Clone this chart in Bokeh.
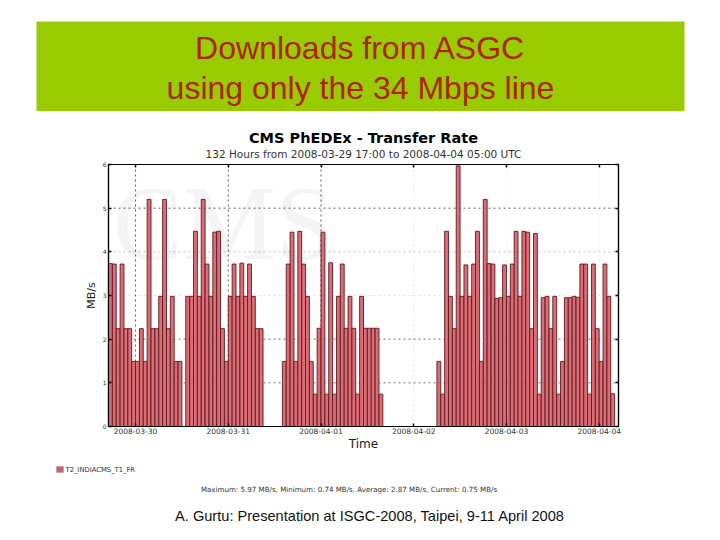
from bokeh.plotting import figure
from bokeh.layouts import column
from bokeh.models import (ColumnDataSource, Label, BoxAnnotation, FixedTicker, LinearAxis, Span)
from bokeh.embed import file_html
from bokeh.resources import INLINE

rates = [
    3.73, 3.72, 2.24, 3.72, 2.24, 2.24, 1.49, 1.49, 2.24, 1.49,
    5.20, 2.24, 2.24, 2.98, 5.20, 2.24, 2.98, 1.49, 1.49, 0.00,
    2.98, 2.98, 4.47, 2.98, 5.20, 3.72, 2.98, 4.45, 4.47, 2.24,
    1.49, 2.98, 3.72, 2.98, 3.74, 2.98, 3.72, 2.98, 2.24, 2.24,
    0.00, 0.00, 0.00, 0.00, 0.00, 1.49, 3.72, 4.45, 1.49, 4.47,
    3.72, 2.98, 1.49, 0.74, 2.25, 4.45, 0.74, 3.75, 0.74, 2.98,
    3.72, 2.25, 2.98, 2.25, 0.74, 2.98, 2.25, 2.25, 2.25, 2.25,
    0.74, 0.00, 0.00, 0.00, 0.00, 0.00, 0.00, 0.00, 0.00, 0.00,
    0.00, 0.00, 0.00, 0.00, 0.00, 1.49, 0.74, 4.47, 2.98, 2.24,
    5.97, 2.98, 3.70, 2.98, 3.72, 4.47, 1.49, 5.20, 3.73, 3.72,
    2.93, 2.95, 3.70, 2.98, 3.72, 4.47, 2.98, 4.47, 4.45, 2.24,
    4.42, 0.74, 2.95, 2.98, 2.24, 2.98, 0.74, 1.49, 2.95, 2.95,
    2.98, 2.96, 3.72, 3.72, 0.74, 3.72, 2.24, 1.49, 3.72, 2.98,
    0.75,
]
hours = [i + 0.5 for i in range(len(rates))]
day_ticks = [7, 31, 55, 79, 103, 127]
day_labels = ["2008-03-30", "2008-03-31", "2008-04-01", "2008-04-02", "2008-04-03", "2008-04-04"]
y_ticks = [0, 1, 2, 3, 4, 5, 6]

W = 712

def blank(height, left, right, top, bottom, bg):
    f = figure(width=W, height=height, output_backend="svg", toolbar_location=None,
               x_range=(0, 1), y_range=(0, 1), x_axis_location=None, y_axis_location=None,
               min_border_left=left, min_border_right=right, min_border_top=top, min_border_bottom=bottom,
               background_fill_color=bg, border_fill_color="white", frame_align=False)
    f.outline_line_color = None
    f.grid.visible = False
    return f

def text(f, x, y, s, size, font="Liberation Sans", color="black", align="center", level="annotation", style="normal"):
    f.add_layout(Label(x=x, y=y, x_units="screen", y_units="screen", text=s, level=level,
                       text_font=font, text_font_size=size, text_color=color, text_font_style=style,
                       text_align=align, text_baseline="middle"))

# header band
head = blank(111, 36, W - 684, 21, 0, "#99CC00")
text(head, 324, 64, "Downloads from ASGC", "32px", color="#AE2200")
text(head, 324, 24, "using only the 34 Mbps line", "32px", color="#AE2200")

# chart titles
heading = blank(48, 0, 0, 0, 0, "white")
text(heading, 363, 22, "CMS PhEDEx - Transfer Rate", "14.5px", font="DejaVu Sans", style="bold")
text(heading, 363, 6, "132 Hours from 2008-03-29 17:00 to 2008-04-04 05:00 UTC", "10.5px",
     font="DejaVu Sans", color="#333333")

# main chart
p = figure(width=W, height=301, output_backend="svg", toolbar_location=None,
           x_range=(0, 132), y_range=(0, 6), frame_align=False,
           min_border_left=108, min_border_right=W - 618, min_border_top=5, min_border_bottom=34,
           background_fill_color="white", border_fill_color="white")
p.outline_line_color = "black"
p.outline_line_width = 1.2
p.grid.visible = False

# faint logo watermark behind the chart
text(p, 4, 203, "CMS", "105px", font="Liberation Serif", color="#f4f4f4", align="left", level="underlay")

x_grid_alpha = [0.85, 0.85, 0.85, 0.12, 0.08, 0.08]
y_grid_alpha = [0.0, 0.75, 0.75, 0.15, 0.35, 0.85, 0.0]
for loc, a in zip(day_ticks, x_grid_alpha):
    p.add_layout(Span(location=loc, dimension="height", line_color="#111111", line_dash=[2, 3],
                      line_width=0.8, line_alpha=a, level="underlay"))
for loc, a in zip(y_ticks, y_grid_alpha):
    p.add_layout(Span(location=loc, dimension="width", line_color="#111111", line_dash=[2, 3],
                      line_width=0.8, line_alpha=a, level="underlay"))

src = ColumnDataSource(dict(x=hours, top=rates))
p.vbar(x="x", top="top", width=1.0, source=src, fill_color="#d9626c", fill_alpha=0.93,
       line_color="#5a1c20", line_width=0.9)

p.xaxis.ticker = FixedTicker(ticks=day_ticks)
p.xaxis.major_label_overrides = dict(zip(day_ticks, day_labels))
p.yaxis.ticker = FixedTicker(ticks=y_ticks)
for ax in (p.xaxis[0], p.yaxis[0]):
    ax.major_tick_in = 3
    ax.major_tick_out = 0
    ax.minor_tick_line_color = None
    ax.major_tick_line_width = 1.5
    ax.axis_line_width = 1.2
    ax.major_label_text_font = "DejaVu Sans"
    ax.major_label_text_color = "#333333"
    ax.axis_label_text_font = "DejaVu Sans"
    ax.axis_label_text_font_style = "normal"
    ax.axis_label_text_color = "#222222"
p.xaxis.major_label_text_font_size = "7.5px"
p.xaxis.major_label_standoff = 1
p.yaxis.major_label_text_font_size = "6px"
p.yaxis.major_label_standoff = 2
p.xaxis.axis_label = "Time"
p.xaxis.axis_label_text_font_size = "12px"
p.xaxis.axis_label_standoff = 0
p.yaxis.axis_label = "MB/s"
p.yaxis.axis_label_text_font_size = "11px"
p.yaxis.axis_label_standoff = 2

p.add_layout(LinearAxis(ticker=FixedTicker(ticks=y_ticks), major_label_text_font_size="0px",
                        major_label_text_color=None, major_tick_in=3, major_tick_out=0,
                        minor_tick_line_color=None, major_tick_line_width=1.5, axis_line_width=1.2), "right")
p.add_layout(LinearAxis(ticker=FixedTicker(ticks=day_ticks), major_label_text_font_size="0px",
                        major_label_text_color=None, major_tick_in=3, major_tick_out=0,
                        minor_tick_line_color=None, major_tick_line_width=1.5, axis_line_width=1.2), "above")

# legend, statistics and credit
foot = blank(72, 0, 0, 0, 0, "white")
foot.add_layout(BoxAnnotation(left=56, right=63, top=66, bottom=60, left_units="screen",
                              right_units="screen", top_units="screen", bottom_units="screen",
                              fill_color="#c9606c", fill_alpha=1, line_color="#888888"))
text(foot, 65, 63, "T2_INDIACMS_T1_FR", "6.8px", font="DejaVu Sans", color="#333333", align="left")
text(foot, 348.5, 43, "Maximum: 5.97 MB/s, Minimum: 0.74 MB/s, Average: 2.87 MB/s, Current: 0.75 MB/s", "7.1px",
     font="DejaVu Sans", color="#333333")
text(foot, 369.5, 17, "A. Gurtu: Presentation at ISGC-2008, Taipei, 9-11 April 2008", "14.6px", color="#111111")

open("out.html", "w").write(file_html(column(head, heading, p, foot, spacing=0), INLINE))
